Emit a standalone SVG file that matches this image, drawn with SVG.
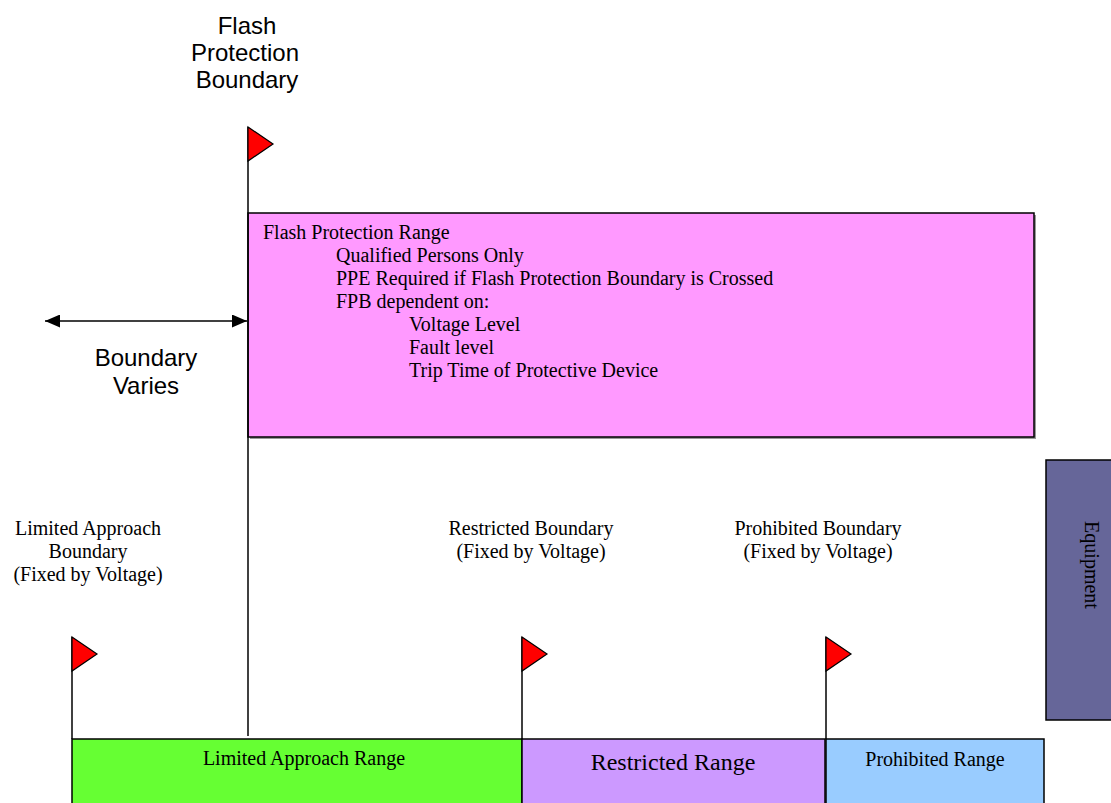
<svg xmlns="http://www.w3.org/2000/svg" width="1111" height="803" viewBox="0 0 1111 803">
  <style>
    .sans { font-family: "Liberation Sans", Arial, sans-serif; font-size: 24px; fill: #000; }
    .serif { font-family: "Liberation Serif", "Times New Roman", serif; font-size: 20px; fill: #000; }
    .pole { stroke: #000; stroke-width: 1.5; fill: none; }
    .flag { fill: #FF0000; stroke: #000; stroke-width: 1.2; stroke-linejoin: miter; }
    .box { stroke: #000; stroke-width: 1.5; }
  </style>
  <defs>
    <marker id="arrow" viewBox="0 0 15 13" refX="15" refY="6.5" markerWidth="15" markerHeight="13" markerUnits="userSpaceOnUse" orient="auto-start-reverse">
      <path d="M0,0 L15,6.5 L0,13 Z" fill="#000"/>
    </marker>
  </defs>
  <rect width="1111" height="803" fill="#fff"/>

  <g id="equipment">
    <rect class="box" x="1046" y="460" width="80" height="260" fill="#666699"/>
    <text class="serif" x="1085" y="565" text-anchor="middle" transform="rotate(90 1085 565)">Equipment</text>
  </g>

  <g id="flash-protection-range">
    <rect x="250" y="215" width="786" height="224" fill="#999"/>
    <rect class="box" x="248" y="213" width="786" height="224" fill="#FF99FF"/>
    <text class="serif" x="263" y="239">Flash Protection Range</text>
    <text class="serif" x="336" y="262">Qualified Persons Only</text>
    <text class="serif" x="336" y="285">PPE Required if Flash Protection Boundary is Crossed</text>
    <text class="serif" x="336" y="308">FPB dependent on:</text>
    <text class="serif" x="409" y="331">Voltage Level</text>
    <text class="serif" x="409" y="354">Fault level</text>
    <text class="serif" x="409" y="377">Trip Time of Protective Device</text>
  </g>

  <g id="limited-approach-range">
    <rect class="box" x="72" y="739" width="450" height="80" fill="#66FF33"/>
    <text class="serif" x="304" y="765" text-anchor="middle">Limited Approach Range</text>
  </g>
  <g id="restricted-range">
    <rect class="box" x="522" y="739" width="303" height="80" fill="#CC99FF"/>
    <text class="serif" x="673" y="770" text-anchor="middle" style="font-size:24px">Restricted Range</text>
  </g>
  <g id="prohibited-range">
    <rect class="box" x="826" y="739" width="218" height="80" fill="#99CCFF"/>
    <text class="serif" x="935" y="766" text-anchor="middle">Prohibited Range</text>
  </g>

  <g id="flash-protection-boundary">
    <text class="sans" x="247" y="34" text-anchor="middle">Flash</text>
    <text class="sans" x="245" y="61" text-anchor="middle">Protection</text>
    <text class="sans" x="247" y="88" text-anchor="middle">Boundary</text>
    <line class="pole" x1="248" y1="127" x2="248" y2="736"/>
    <path class="flag" d="M248,127 L273,144 L248,161 Z"/>
  </g>

  <g id="boundary-varies">
    <text class="sans" x="146" y="366" text-anchor="middle">Boundary</text>
    <text class="sans" x="146" y="394" text-anchor="middle">Varies</text>
  </g>

  <g id="limited-approach-boundary">
    <text class="serif" x="88" y="535" text-anchor="middle">Limited Approach</text>
    <text class="serif" x="88" y="558" text-anchor="middle">Boundary</text>
    <text class="serif" x="88" y="581" text-anchor="middle">(Fixed by Voltage)</text>
    <line class="pole" x1="72" y1="637" x2="72" y2="739"/>
    <path class="flag" d="M72,637 L97,654 L72,671 Z"/>
  </g>

  <g id="restricted-boundary">
    <text class="serif" x="531" y="535" text-anchor="middle">Restricted Boundary</text>
    <text class="serif" x="531" y="558" text-anchor="middle">(Fixed by Voltage)</text>
    <line class="pole" x1="522" y1="637" x2="522" y2="739"/>
    <path class="flag" d="M522,637 L547,654 L522,671 Z"/>
  </g>

  <g id="prohibited-boundary">
    <text class="serif" x="818" y="535" text-anchor="middle">Prohibited Boundary</text>
    <text class="serif" x="818" y="558" text-anchor="middle">(Fixed by Voltage)</text>
    <line class="pole" x1="826" y1="637" x2="826" y2="739"/>
    <path class="flag" d="M826,637 L851,654 L826,671 Z"/>
  </g>

  <g id="connectors">
    <line x1="45" y1="321" x2="247" y2="321" stroke="#000" stroke-width="1.5" marker-start="url(#arrow)" marker-end="url(#arrow)"/>
  </g>
</svg>
